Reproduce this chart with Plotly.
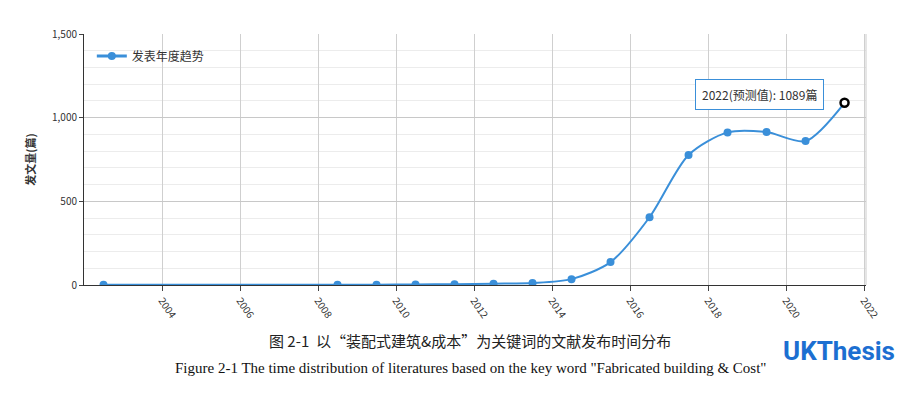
import plotly.graph_objects as go

years = [2003, 2009, 2010, 2011, 2012, 2013, 2014, 2015, 2016, 2017, 2018, 2019, 2020, 2021]
counts = [2, 2, 2, 3, 5, 8, 12, 35, 137, 405, 777, 912, 914, 860]
pred_year = [2022]
pred_count = [1089]
tick_years = [2004, 2006, 2008, 2010, 2012, 2014, 2016, 2018, 2020, 2022]
blue = "#3a8fd9"

fig = go.Figure()
fig.add_trace(go.Scatter(x=years + pred_year, y=counts + pred_count, mode="lines",
                         line=dict(color=blue, width=2, shape="spline", smoothing=0.8),
                         showlegend=False, hoverinfo="skip"))
fig.add_trace(go.Scatter(x=years, y=counts, mode="markers", showlegend=False,
                         marker=dict(color=blue, size=8)))
fig.add_trace(go.Scatter(x=[None], y=[None], mode="lines+markers", name="发表年度趋势",
                         line=dict(color=blue, width=3), marker=dict(color=blue, size=8)))
fig.add_trace(go.Scatter(x=pred_year, y=pred_count, mode="markers", showlegend=False,
                         marker=dict(color="white", size=8, line=dict(color="black", width=2.5))))

fig.add_annotation(x=pred_year[0], y=pred_count[0], xref="x", yref="y",
                   text=f"{pred_year[0]}(预测值): {pred_count[0]}篇", showarrow=False,
                   xshift=-85, yshift=8, bgcolor="white", bordercolor=blue, borderwidth=1,
                   borderpad=6, font=dict(size=12, color="#333"))
fig.add_annotation(x=0.5, y=-0.27, xref="paper", yref="paper", showarrow=False,
                   text="图 2-1  以“装配式建筑&成本”为关键词的文献发布时间分布",
                   font=dict(family="Noto Sans CJK SC", size=15, color="#222"), xshift=-5)
fig.add_annotation(x=0.5, y=-0.37, xref="paper", yref="paper", showarrow=False,
                   text='Figure 2-1 The time distribution of literatures based on the key word "Fabricated building & Cost"',
                   font=dict(family="Liberation Serif", size=15, color="#111"), xshift=-5)
fig.add_annotation(x=1.04, y=-0.33, xref="paper", yref="paper", showarrow=False,
                   text="<b>UKThesis</b>", font=dict(family="Roboto", size=26, color="#1c6fd1"))

fig.update_layout(
    width=906, height=401, margin=dict(l=76, r=48, t=26, b=124),
    plot_bgcolor="white", paper_bgcolor="white",
    font=dict(family="Noto Sans CJK SC", size=11, color="#333"),
    legend=dict(x=0.01, y=0.97, bgcolor="rgba(0,0,0,0)", font=dict(size=12)),
    xaxis=dict(range=[2002.5, 2022.55], tickmode="array",
               tickvals=[t + 0.5 for t in tick_years], ticktext=[str(t) for t in tick_years],
               tickangle=55, ticks="outside", ticklen=5, showline=True, linecolor="#333",
               gridcolor="#cfcfcf", tickfont=dict(size=10), zeroline=False),
    yaxis=dict(range=[0, 1500], dtick=500, tickformat=",", showline=True, linecolor="#333",
               ticks="outside", ticklen=4, gridcolor="#c8c8c8", zeroline=False,
               minor=dict(dtick=100, showgrid=True, gridcolor="#ececec"),
               title=dict(text="<b>发文量(篇)</b>", font=dict(size=11), standoff=14),
               tickfont=dict(size=10)),
)
fig.add_shape(type="line", xref="paper", yref="paper", x0=1, x1=1, y0=0, y1=1,
              line=dict(color="#cccccc", width=1))
fig.write_html("out.html")
